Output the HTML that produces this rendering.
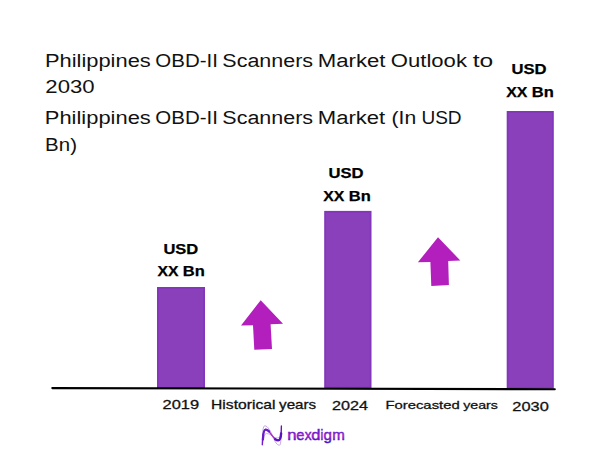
<!DOCTYPE html>
<html><head><meta charset="utf-8">
<style>
html,body{margin:0;padding:0;background:#fff;}
body{width:602px;height:451px;overflow:hidden;}
svg{display:block;}
text{font-family:"Liberation Sans",sans-serif;}
</style></head>
<body>
<svg width="602" height="451" viewBox="0 0 602 451">
<defs>
<linearGradient id="lg" x1="0" y1="0" x2="0" y2="1">
<stop offset="0" stop-color="#a323c9"/>
<stop offset="1" stop-color="#5b1fc2"/>
</linearGradient>
</defs>
<rect width="602" height="451" fill="#fff"/>
<!-- titles -->
<g fill="#111" font-size="19.2">
<text x="44.9" y="67.1" textLength="105.89" lengthAdjust="spacingAndGlyphs">Philippines</text>
<text x="155.33" y="67.1" textLength="62.56" lengthAdjust="spacingAndGlyphs">OBD-II</text>
<text x="222.32" y="67.1" textLength="90.75" lengthAdjust="spacingAndGlyphs">Scanners</text>
<text x="317.78" y="67.1" textLength="67.68" lengthAdjust="spacingAndGlyphs">Market</text>
<text x="390.85" y="67.1" textLength="76.11" lengthAdjust="spacingAndGlyphs">Outlook</text>
<text x="472.73" y="67.1" textLength="20.5" lengthAdjust="spacingAndGlyphs">to</text>
<text x="45.39" y="93.0" textLength="49.28" lengthAdjust="spacingAndGlyphs">2030</text>
<text x="44.8" y="124.3" textLength="105.99" lengthAdjust="spacingAndGlyphs">Philippines</text>
<text x="155.33" y="124.3" textLength="62.56" lengthAdjust="spacingAndGlyphs">OBD-II</text>
<text x="222.32" y="124.3" textLength="90.75" lengthAdjust="spacingAndGlyphs">Scanners</text>
<text x="317.79" y="124.3" textLength="67.47" lengthAdjust="spacingAndGlyphs">Market</text>
<text x="391.59" y="124.3" textLength="24.69" lengthAdjust="spacingAndGlyphs">(In</text>
<text x="421.43" y="124.3" textLength="40.18" lengthAdjust="spacingAndGlyphs">USD</text>
<text x="45.12" y="150.5" textLength="31.85" lengthAdjust="spacingAndGlyphs">Bn)</text>
</g>
<!-- bars -->
<g fill="#8a3fbb" stroke="#8236b9" stroke-width="1.8">
<rect x="157.9" y="287.9" width="46.2" height="100"/>
<rect x="325.1" y="211.8" width="45.5" height="176"/>
<rect x="507.6" y="111.9" width="45.3" height="276"/>
</g>
<!-- baseline -->
<line x1="52.3" y1="388.1" x2="554.8" y2="389.2" stroke="#000" stroke-width="2.1" stroke-linecap="round"/>
<!-- value labels -->
<g fill="#000" font-size="14.2" font-weight="bold" stroke="#000" stroke-width="0.25">
<text x="163.41" y="253.7" textLength="34.89" lengthAdjust="spacingAndGlyphs">USD</text>
<text x="157.56" y="276.3" textLength="20.98" lengthAdjust="spacingAndGlyphs">XX</text>
<text x="182.89" y="276.3" textLength="22.03" lengthAdjust="spacingAndGlyphs">Bn</text>
<text x="328.4" y="177.7" textLength="35.1" lengthAdjust="spacingAndGlyphs">USD</text>
<text x="323.26" y="200.7" textLength="21.18" lengthAdjust="spacingAndGlyphs">XX</text>
<text x="348.79" y="200.7" textLength="22.03" lengthAdjust="spacingAndGlyphs">Bn</text>
<text x="511.4" y="73.7" textLength="35.1" lengthAdjust="spacingAndGlyphs">USD</text>
<text x="506.26" y="96.7" textLength="21.18" lengthAdjust="spacingAndGlyphs">XX</text>
<text x="531.79" y="96.7" textLength="22.03" lengthAdjust="spacingAndGlyphs">Bn</text>
</g>
<!-- arrows -->
<g fill="#b21fbd">
<polygon points="260.7,300.3 283,323.7 270.6,324.2 272,349 254.3,349.7 253,325.2 241,325.5"/>
<polygon points="438,237.3 460.3,260.5 448.2,261 448.9,284.9 431.3,286.1 430.4,261.9 417.9,262.3"/>
</g>
<!-- axis labels -->
<g fill="#111" font-size="13" stroke="#111" stroke-width="0.3">
<text x="162.52" y="409.1" textLength="36.61" lengthAdjust="spacingAndGlyphs">2019</text>
<text x="211.07" y="409.2" textLength="64.33" lengthAdjust="spacingAndGlyphs">Historical</text>
<text x="279.11" y="409.2" textLength="37.09" lengthAdjust="spacingAndGlyphs">years</text>
<text x="332.04" y="410.2" textLength="35.99" lengthAdjust="spacingAndGlyphs">2024</text>
<text x="385.43" y="408.95" font-size="11.8" textLength="74.27" lengthAdjust="spacingAndGlyphs">Forecasted</text>
<text x="463.22" y="408.95" font-size="11.8" textLength="34.75" lengthAdjust="spacingAndGlyphs">years</text>
<text x="512.33" y="410.8" textLength="36.46" lengthAdjust="spacingAndGlyphs">2030</text>
</g>
<!-- logo -->
<defs>
<linearGradient id="lgm" gradientUnits="userSpaceOnUse" x1="262" y1="0" x2="282" y2="0">
<stop offset="0" stop-color="#6a1cc8"/>
<stop offset="0.5" stop-color="#b02cc8"/>
<stop offset="1" stop-color="#5f12c0"/>
</linearGradient>
<linearGradient id="lgt" gradientUnits="userSpaceOnUse" x1="0" y1="428" x2="0" y2="444">
<stop offset="0" stop-color="#5a18c8"/>
<stop offset="0.24" stop-color="#5e18c8"/>
<stop offset="0.44" stop-color="#a818c8"/>
<stop offset="0.56" stop-color="#8a18c8"/>
<stop offset="0.74" stop-color="#5214c2"/>
<stop offset="1" stop-color="#4a12c0"/>
</linearGradient>
</defs>
<g fill="none" stroke-linecap="round">
<path d="M262.4,444.5 C262.4,432 263,425.8 264.8,425.8 C268,425.8 271,432 273,437 C275,442 277,445.2 279.6,445.2 C281,445.2 281.4,434 281.4,426.5" stroke="#b890e2" stroke-width="0.8"/>
<path d="M262.8,443.5 C263.2,438 264.3,433.8 266.5,433.6 C269,433.4 271,435 273,436.5 C275,438 277,438.2 279,437.6 C281,437 281.4,430 281.4,426.5" stroke="#c49ae6" stroke-width="0.8"/>
<path d="M262.3,444.8 C262.6,436 263.6,429.5 265.6,429.5 C268.5,429.5 270,433 272,435.5 C274,438 276,440.5 278.2,440.4 C281,440.3 281.4,432 281.4,426" stroke="url(#lgm)" stroke-width="1.3"/>
<path d="M262.9,439.5 C263.2,434 264,429.6 265.6,429.6 C267,429.6 268,430.4 269,431.4" stroke="#6a1cc8" stroke-width="2.3"/>
<path d="M275.2,439.3 C276.2,440 277.2,440.4 278.2,440.4 C280.2,440.3 280.9,437 281.1,433.5" stroke="#5a12c0" stroke-width="2.4"/>
</g>
<g font-size="15" stroke="url(#lgt)" stroke-width="0.45" fill="url(#lgt)">
<text x="287.29" y="439.6" textLength="9.3" lengthAdjust="spacingAndGlyphs">n</text>
<text x="296.28" y="439.6" textLength="8.18" lengthAdjust="spacingAndGlyphs">e</text>
<text x="304.85" y="439.6" textLength="6.8" lengthAdjust="spacingAndGlyphs">x</text>
<text x="311.31" y="439.6" textLength="9.15" lengthAdjust="spacingAndGlyphs">d</text>
<text x="320.46" y="439.6" textLength="2.78" lengthAdjust="spacingAndGlyphs">i</text>
<text x="323.57" y="439.6" textLength="8.41" lengthAdjust="spacingAndGlyphs">g</text>
<text x="332.2" y="439.6" textLength="12.6" lengthAdjust="spacingAndGlyphs">m</text>
</g>
</svg>
</body></html>
